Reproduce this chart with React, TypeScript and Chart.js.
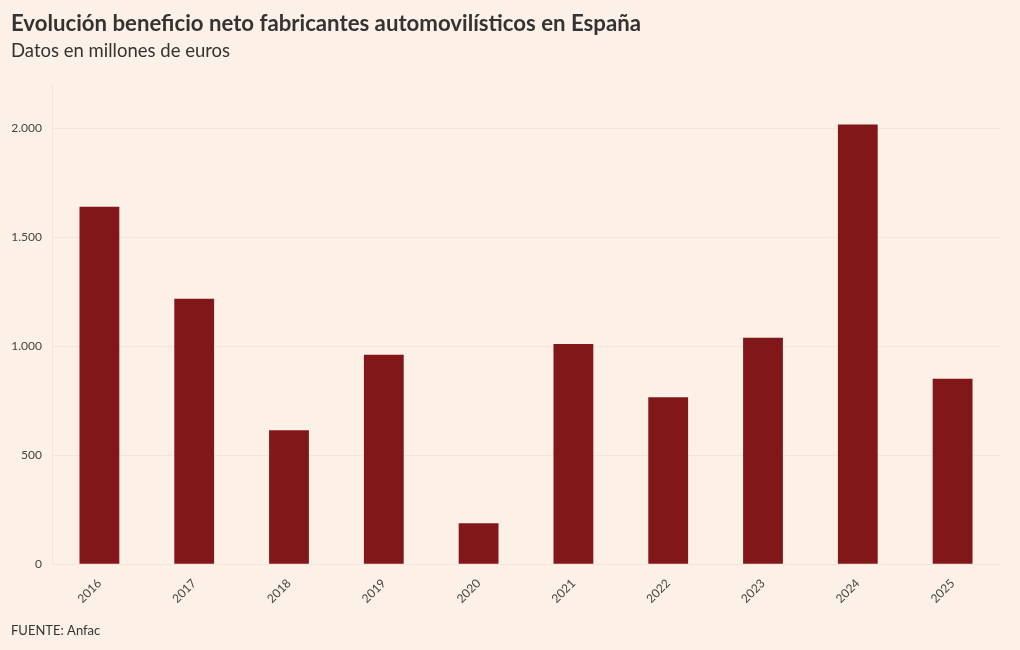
import React, { useEffect, useRef } from "react";
import { Chart, registerables } from "chart.js";

Chart.register(...registerables);

const years = ["2016", "2017", "2018", "2019", "2020", "2021", "2022", "2023", "2024", "2025"];
const beneficio = [1640, 1218, 614, 961, 188, 1011, 766, 1039, 2018, 851];
const yTicks = [0, 500, 1000, 1500, 2000];

const TITLE = "Evolución beneficio neto fabricantes automovilísticos en España";
const SUBTITLE = "Datos en millones de euros";
const SOURCE = "FUENTE: Anfac";
const FONT = "Lato, 'Noto Sans', sans-serif";
const BG = "#fdf0e6";

function fmt(v: number): string {
  const s = Math.round(v).toString();
  return s.replace(/\B(?=(\d{3})+(?!\d))/g, ".");
}

const footerPlugin = {
  id: "footerText",
  afterDraw(chart: any) {
    const ctx = chart.ctx;
    ctx.save();
    ctx.font = `13px ${FONT}`;
    ctx.fillStyle = "#333333";
    ctx.textBaseline = "middle";
    ctx.textAlign = "left";
    ctx.fillText(SOURCE, 11, 631);
    ctx.restore();
  },
};

export default function App() {
  const ref = useRef<HTMLCanvasElement>(null);
  useEffect(() => {
    if (!ref.current) return;
    const chart = new Chart(ref.current, {
      type: "bar",
      data: {
        labels: years,
        datasets: [
          {
            data: beneficio,
            backgroundColor: "#82171a",
            barPercentage: 0.42,
            categoryPercentage: 1,
          },
        ],
      },
      options: {
        animation: false,
        responsive: false,
        maintainAspectRatio: false,
        layout: { padding: { left: 11, right: 20, top: 7, bottom: 40 } },
        plugins: {
          legend: { display: false },
          tooltip: { enabled: false },
          title: {
            display: true,
            text: TITLE,
            align: "start",
            color: "#333333",
            font: { family: FONT, size: 22.2, weight: "bold" },
            padding: { top: 4, bottom: 2 },
          },
          subtitle: {
            display: true,
            text: SUBTITLE,
            align: "start",
            color: "#333333",
            font: { family: FONT, size: 18.5 },
            padding: { top: 0, bottom: 23 },
          },
        },
        scales: {
          x: {
            grid: { display: false },
            border: { display: false },
            ticks: {
              color: "#444444",
              font: { family: FONT, size: 12 },
              minRotation: 45,
              maxRotation: 45,
              padding: 4,
            },
          },
          y: {
            min: 0,
            max: 2200,
            afterBuildTicks: (axis: any) => {
              axis.ticks = yTicks.map((v) => ({ value: v }));
            },
            afterFit: (axis: any) => {
              axis.width = 41;
            },
            grid: { color: "rgba(0,0,0,0.045)", drawTicks: false },
            border: { display: true, color: "rgba(0,0,0,0.045)" },
            ticks: {
              color: "#444444",
              font: { family: FONT, size: 12 },
              padding: 10,
              callback: (v: any) => fmt(Number(v)),
            },
          },
        },
      },
      plugins: [footerPlugin],
    });
    return () => chart.destroy();
  }, []);
  return (
    <div style={{ position: "fixed", left: 0, top: 0, width: 1020, height: 650, background: BG }}>
      <canvas ref={ref} width={1020} height={650} style={{ display: "block" }} />
    </div>
  );
}
